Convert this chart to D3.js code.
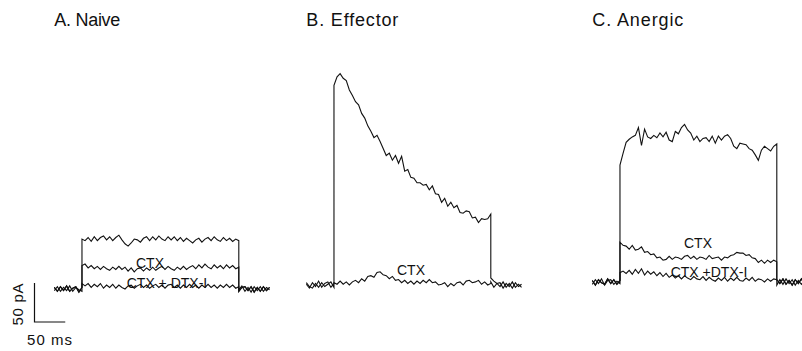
<!DOCTYPE html>
<html>
<head>
<meta charset="utf-8">
<script src="https://cdn.jsdelivr.net/npm/d3@7"></script>
<style>
  body { margin: 0; background: #fff; }
  svg { display: block; font-family: "Liberation Sans", Arial, Helvetica, sans-serif; }
  .trace { fill: none; stroke: #111; stroke-width: 1.1; stroke-linejoin: miter; }
  .bar { stroke: #111; stroke-width: 1.2; fill: none; }
</style>
</head>
<body>
<svg id="chart" width="802" height="351"></svg>
<script>
// sampling of the current traces
const dt = 5;        // ms between samples
const onset = 45;    // ms, voltage step on
const offset = 300;  // ms, voltage step off
const sweep = 350;   // ms shown per panel

const titles = ["A. Naive", "B. Effector", "C. Anergic"];

// --- A. Naive (pA) ---
const naivePre1  = [2, -3, 3, -2, 4, -3, 1, 3, -4, 2];
const naivePre2  = [-2, 3, -3, 2, -2, 4, -3, 2, -1, -3];
const naivePost1 = [-1, 4, -3, 2, -4, 3, -2, 3, -3, 2, -1];
const naivePost2 = [-3, 2, 3, -2, 3, -4, 2, -3, 3, -2, 2];
const naiveControl = [64, 62, 66, 61, 67, 62, 66, 68, 63, 67, 62, 66, 69, 63, 58, 55, 59, 64, 63, 60,
                      65, 67, 62, 67, 63, 68, 64, 62, 67, 63, 67, 62, 66, 61, 65, 62, 59, 63, 65, 60,
                      64, 66, 62, 67, 63, 61, 66, 62, 65, 61, 64, 62];
const naiveCTX = [30, 32, 27, 30, 26, 29, 25, 29, 26, 24, 28, 25, 29, 25, 28, 23, 27, 22, 26, 27,
                  23, 27, 24, 28, 24, 27, 29, 25, 29, 26, 24, 28, 25, 29, 25, 28, 30, 26, 31, 27,
                  32, 28, 26, 31, 27, 30, 26, 31, 27, 30, 26, 28];
const naiveDTX = [7, 4, 7, 2, 6, 3, 7, 1, 5, 2, 6, 1, 5, 2, 0, 4, 5, 1, 4, 6,
                  2, 5, 1, 4, 6, 2, 5, 1, 5, 6, 2, 5, 1, 5, 2, 6, 2, 5, 1, 5,
                  2, 6, 2, 5, 1, 5, 2, 6, 2, 5, 1, 3];

// --- B. Effector (pA) ---
const effPre1  = [1, -4, 3, -2, 5, -3, 2, 4, -3, 2];
const effPre2  = [3, -2, -4, 2, -3, 3, -2, 1, 4, -3];
const effPost1 = [9, 5, 2, -2, 4, -3, 2, -4, 3, -2, 1];
const effPost2 = [4, -3, 2, 3, -4, 2, -2, 4, -3, 1, -3];
const effControl = [256, 267, 271, 265, 262, 250, 243, 235, 231, 220, 214, 204, 197, 189, 192, 184, 175, 166, 169, 160,
                    166, 156, 165, 146, 148, 138, 137, 131, 131, 128, 129, 122, 127, 117, 116, 106, 111, 101, 106, 99,
                    102, 93, 92, 95, 94, 86, 87, 80, 85, 84, 85, 91];
const effCTX = [3, 1, 5, 1, 4, 0, 4, 6, 3, 8, 5, 11, 12, 10, 16, 17, 13, 12, 8, 11,
                6, 7, 3, 6, 2, 5, 1, 5, 2, 6, 3, 7, 3, 4, 0, 1, 3, -2, 2, -1,
                3, 4, 0, 5, 6, 3, 4, 6, 1, 4, 0, 2];

// --- C. Anergic (pA) ---
const anPre1  = [2, -4, 3, -1, -3, 4, -2, 3, -3, 2];
const anPre2  = [-3, 3, -2, 4, -4, 2, 3, -3, 1, -2];
const anPost1 = [-4, 3, -3, 4, -2, 3, -4, 2, -3, 3, -2];
const anPost2 = [3, -2, 4, -3, 2, -4, 3, -2, 4, -3, 1];
const anControl = [150, 165, 179, 183, 186, 188, 198, 175, 196, 186, 184, 188, 185, 191, 186, 192, 182, 180, 193, 190,
                   198, 202, 195, 191, 182, 187, 180, 184, 185, 180, 187, 178, 187, 182, 187, 189, 184, 174, 171, 178,
                   177, 176, 171, 169, 163, 156, 169, 174, 171, 168, 174, 177];
const anCTX = [51, 47, 46, 42, 47, 41, 42, 45, 38, 39, 35, 36, 31, 32, 28, 29, 33, 29, 32, 31,
               29, 33, 34, 30, 33, 29, 32, 31, 29, 34, 30, 31, 32, 28, 32, 31, 34, 35, 38, 37,
               37, 34, 35, 31, 30, 25, 28, 24, 28, 25, 28, 26];
const anDTX = [12, 14, 11, 15, 10, 16, 11, 17, 9, 14, 10, 13, 8, 12, 7, 11, 6, 9, 5, 8,
               4, 8, 5, 3, 7, 4, 3, 7, 2, 6, 3, 1, 5, 2, 6, 1, 5, 2, 6, 2,
               1, 5, 2, 6, 1, 4, 3, 0, 4, 1, 4, 3];

// scale bar
const barTime = 50;    // ms
const barCurrent = 50; // pA

// join baseline + step + baseline into one sweep of [ms, pA]
function sweepPoints(pre, pulse, post) {
    return [
        ...pre.map((v, i) => [i * dt, v]),
        ...pulse.map((v, i) => [onset + i * dt, v]),
        ...post.map((v, i) => [offset + i * dt, v])
    ];
}

const panels = [
    {
        title: titles[0], x0: 54.3, base: 289, titleW: 66,
        traces: [
            sweepPoints(naivePre1, naiveControl, naivePost1),
            sweepPoints(naivePre2, naiveCTX, naivePost2),
            sweepPoints(naivePre1, naiveDTX, naivePost2)
        ],
        labels: [
            {text: "CTX", x: 150, y: 268},
            {text: "CTX + DTX-I", x: 167, y: 288}
        ]
    },
    {
        title: titles[1], x0: 306.3, base: 285, titleW: 92,
        traces: [
            sweepPoints(effPre1, effControl, effPost1),
            sweepPoints(effPre2, effCTX, effPost2)
        ],
        labels: [
            {text: "CTX", x: 411, y: 275}
        ]
    },
    {
        title: titles[2], x0: 592.3, base: 282, titleW: 91,
        traces: [
            sweepPoints(anPre1, anControl, anPost1),
            sweepPoints(anPre2, anCTX, anPost2),
            sweepPoints(anPre1, anDTX, anPost2)
        ],
        labels: [
            {text: "CTX", x: 698, y: 248},
            {text: "CTX +DTX-I", x: 709, y: 277}
        ]
    }
];

const svg = d3.select("#chart");
const pxPerMs = 0.615;
const pxPerPA = 0.78;

panels.forEach(p => {
    const x = d3.scaleLinear()
        .domain([0, sweep])
        .range([p.x0, p.x0 + sweep * pxPerMs]);
    const y = d3.scaleLinear()
        .domain([0, barCurrent])
        .range([p.base, p.base - barCurrent * pxPerPA]);
    p.x = x;
    p.y = y;

    const line = d3.line()
        .x(d => x(d[0]))
        .y(d => y(d[1]));

    const g = svg.append("g");

    g.selectAll(".trace")
        .data(p.traces)
      .join("path")
        .attr("class", "trace")
        .attr("d", line);

    g.append("text")
        .attr("x", p.x0)
        .attr("y", 26)
        .attr("font-size", 18)
        .attr("textLength", p.titleW)
        .attr("lengthAdjust", "spacing")
        .attr("fill", "#111")
        .text(p.title);

    g.selectAll(".lbl")
        .data(p.labels)
      .join("text")
        .attr("class", "lbl")
        .attr("x", d => d.x)
        .attr("y", d => d.y)
        .attr("text-anchor", "middle")
        .attr("font-size", 14)
        .attr("fill", "#111")
        .text(d => d.text);
});

// scale bar, sized with panel A's scales
const pa = panels[0];
const barLeft = 34.5, barBottom = 322;
const barW = pa.x(barTime) - pa.x(0);
const barH = pa.y(0) - pa.y(barCurrent);

svg.append("path")
    .attr("class", "bar")
    .attr("d", `M${barLeft},${barBottom - barH}V${barBottom}H${barLeft + barW}`);

svg.append("text")
    .attr("transform", `translate(23,${barBottom - barH / 2 + 2}) rotate(-90)`)
    .attr("text-anchor", "middle")
    .attr("font-size", 15)
    .attr("textLength", 42)
    .attr("fill", "#111")
    .text(`${barCurrent} pA`);

svg.append("text")
    .attr("x", 27)
    .attr("y", 345)
    .attr("font-size", 15)
    .attr("textLength", 45)
    .attr("fill", "#111")
    .text(`${barTime} ms`);
</script>
</body>
</html>
